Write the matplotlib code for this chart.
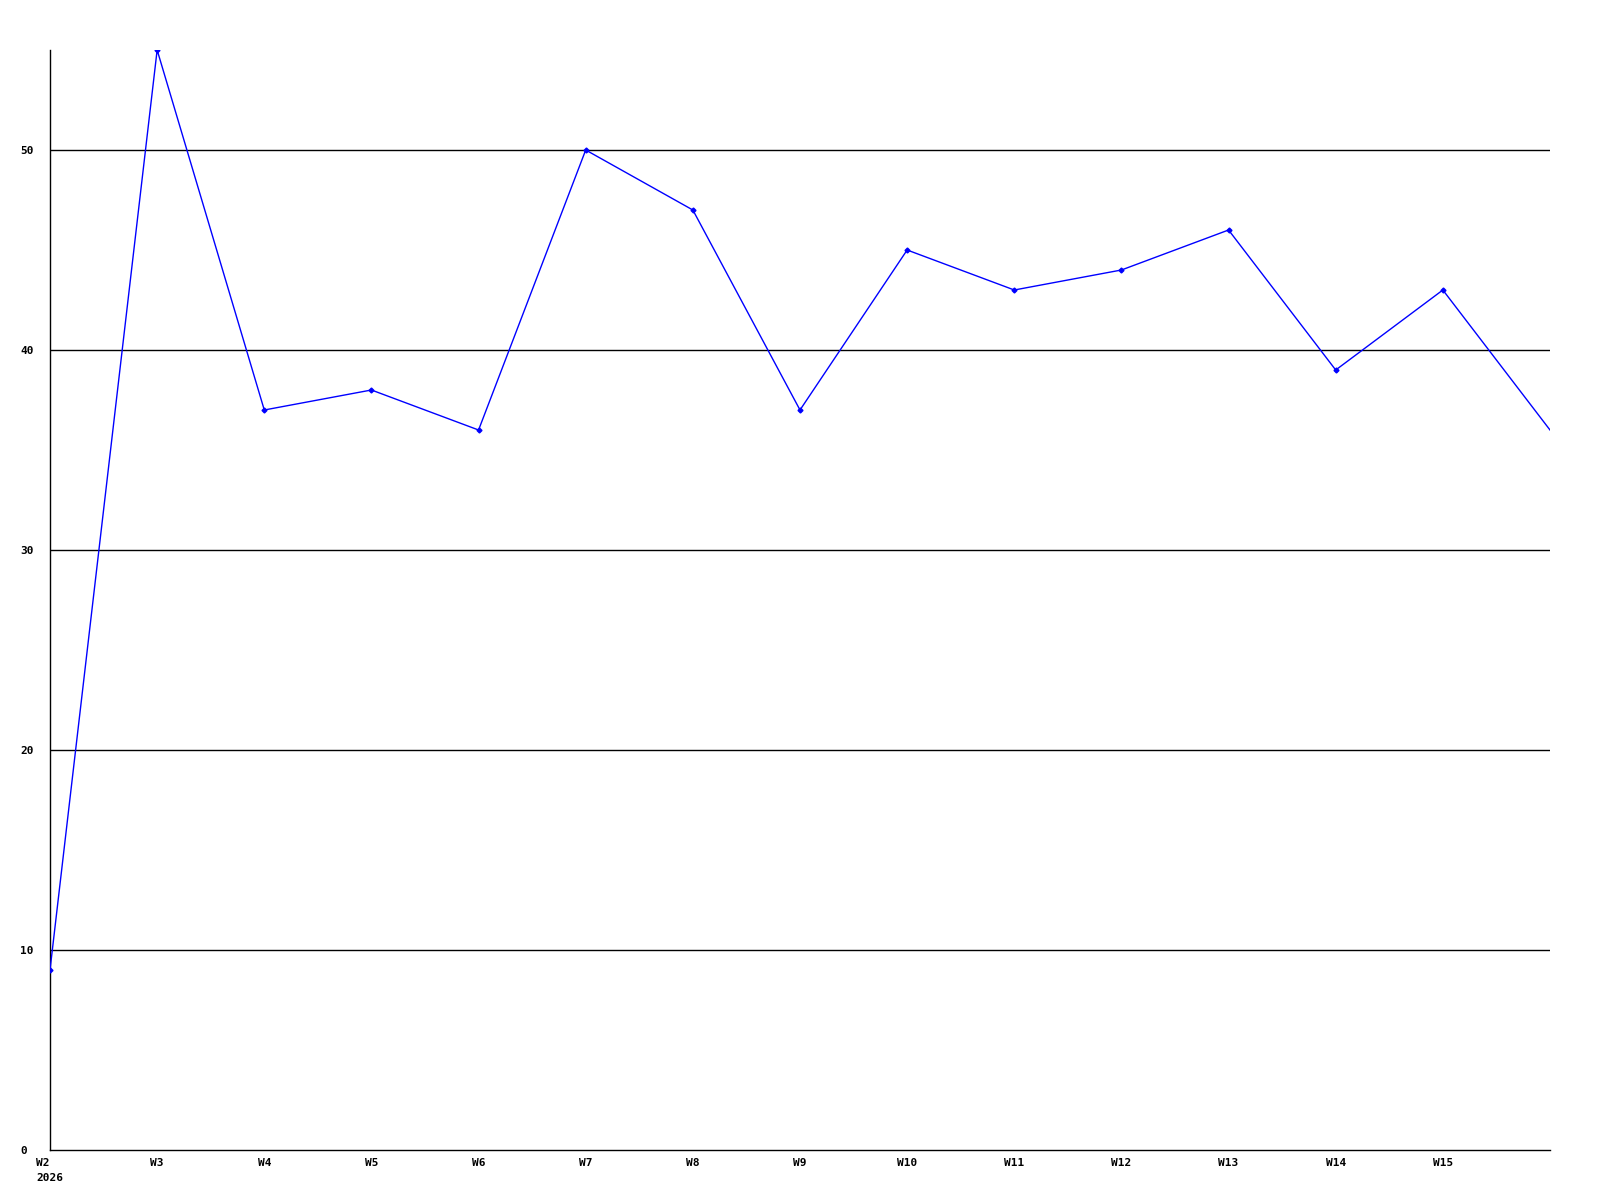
import matplotlib
matplotlib.use("Agg")
import matplotlib.pyplot as plt

weeks = ["W2", "W3", "W4", "W5", "W6", "W7", "W8", "W9", "W10", "W11", "W12", "W13", "W14", "W15", "W16"]
values = [9, 55, 37, 38, 36, 50, 47, 37, 45, 43, 44, 46, 39, 43, 36]
tick_labels = ["W2\n2026", "W3", "W4", "W5", "W6", "W7", "W8", "W9", "W10", "W11", "W12", "W13", "W14", "W15"]
yticks = [0, 10, 20, 30, 40, 50]

fig = plt.figure(figsize=(16, 12), dpi=100)
ax = fig.add_axes([50/1600, 50/1200, 1500/1600, 1100/1200])

x = list(range(len(weeks)))
for yv in yticks[1:]:
    ax.axhline(yv, color="black", linewidth=1, zorder=1)
ax.plot(x, values, color="#0000ff", linewidth=1, marker="D", markersize=2.5,
        markevery=list(range(len(weeks) - 1)), zorder=3)

ax.set_xlim(0, len(weeks) - 1)
ax.set_ylim(0, 55)
ax.set_yticks(yticks)
ax.set_yticklabels([str(v) for v in yticks], ha="left")
ax.set_xticks(x[:-1])
ax.set_xticklabels(tick_labels, ha="center", multialignment="left")
for lbl in ax.get_xticklabels() + ax.get_yticklabels():
    lbl.set_fontfamily("DejaVu Sans Mono")
    lbl.set_fontweight("bold")
    lbl.set_fontsize(8)
for lbl in ax.get_xticklabels():
    lbl.set_linespacing(1.55)
ax.tick_params(axis="both", length=0)
ax.tick_params(axis="y", pad=21.5)
ax.tick_params(axis="x", pad=6)
for s in ["top", "right"]:
    ax.spines[s].set_visible(False)
for s in ["left", "bottom"]:
    ax.spines[s].set_color("black")
    ax.spines[s].set_linewidth(1)

fig.savefig("out.png", dpi=100, facecolor="white")
